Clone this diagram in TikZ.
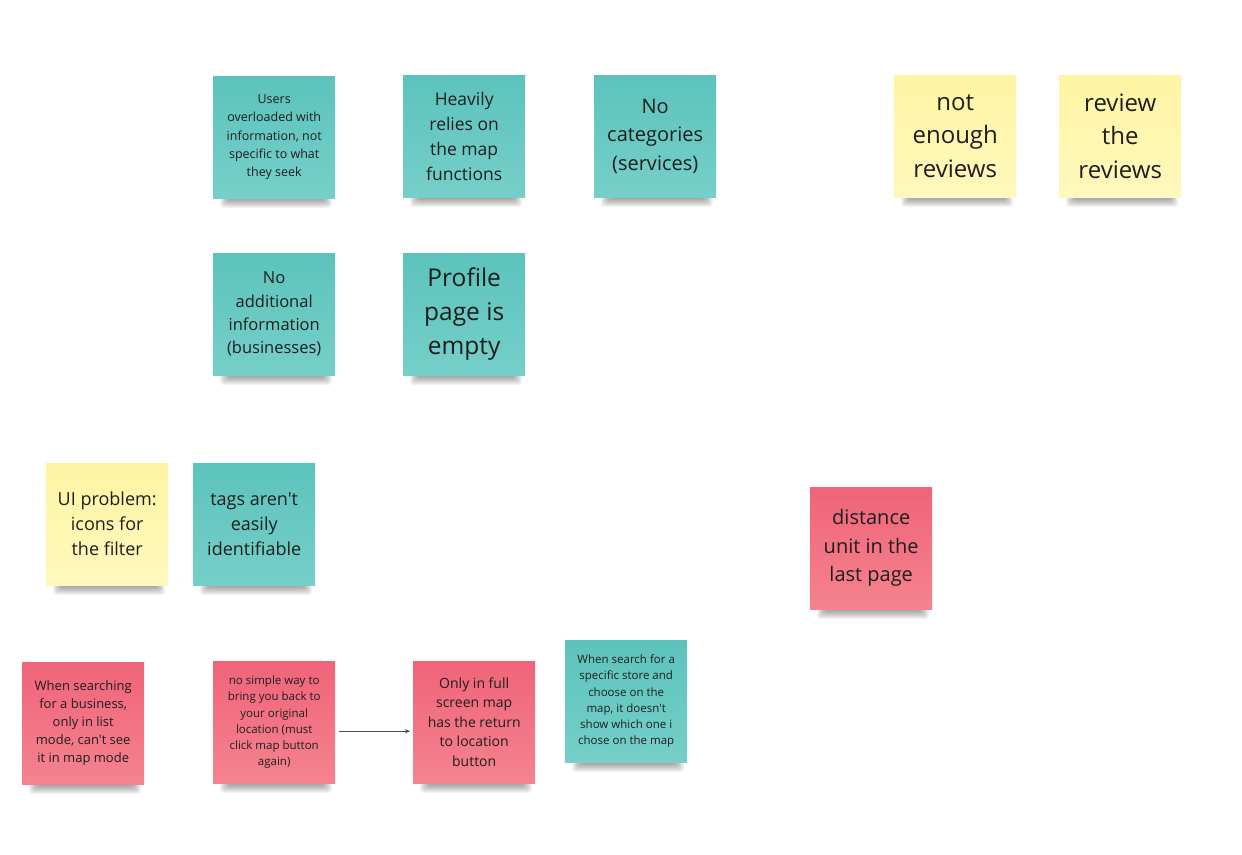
\documentclass[tikz,border=0pt]{standalone}
\usepackage{fontspec}
\setmainfont{Open Sans}[Ligatures=TeXOff]
\usetikzlibrary{arrows.meta,calc}
\definecolor{txt}{HTML}{1E1E1E}
\definecolor{tealA}{HTML}{5CC3BC}
\definecolor{tealB}{HTML}{76CFC9}
\definecolor{pinkA}{HTML}{EF6479}
\definecolor{pinkB}{HTML}{F5838F}
\definecolor{yelA}{HTML}{FFF4A3}
\definecolor{yelB}{HTML}{FFF8BD}
\tikzset{
  note/.style={anchor=north west,minimum width=122pt,minimum height=122pt,
    inner sep=0pt,align=center,text=txt,draw=none},
  tealnote/.style={note,top color=tealA,bottom color=tealB},
  pinknote/.style={note,top color=pinkA,bottom color=pinkB},
  yelnote/.style={note,top color=yelA,bottom color=yelB},
  link/.style={draw=black!70,line width=0.5pt,-{Stealth[length=5pt,width=4pt]}}
}
% name, x, y, style, font size, baseline, text
\newcommand\stickynote[7]{%
  \foreach \k in {1,...,9}{%
    \fill[black,opacity=0.045,rounded corners=3pt] ($(#2,#3)+(6+\k,122-3)$) rectangle ($(#2,#3)+(122-2-\k,122+11-\k)$);
  }%
  \node[#4,font={\fontsize{#5}{#6}\selectfont}] (#1) at (#2,#3) {#7};
}
\begin{document}
\begin{tikzpicture}[x=1pt,y=-1pt]
\useasboundingbox[fill=white] (0,0) rectangle (1242,854);
\stickynote{n1}{213}{76}{tealnote}{12.5}{18.2}{Users\\overloaded with\\information, not\\specific to what\\they seek}
\stickynote{n2}{403}{75}{tealnote}{17.5}{25}{Heavily\\relies on\\the map\\functions}
\stickynote{n3}{594}{75}{tealnote}{20}{28.5}{No\\categories\\(services)}
\stickynote{n4}{894}{75}{yelnote}{24}{33.5}{not\\enough\\reviews}
\stickynote{n5}{1059}{75}{yelnote}{24}{33.5}{review\\the\\reviews}
\stickynote{n6}{213}{253}{tealnote}{16.5}{23.3}{No\\additional\\information\\(businesses)}
\stickynote{n7}{403}{253}{tealnote}{24.5}{34}{Profile\\page is\\empty}
\stickynote{n8}{46}{463}{yelnote}{18}{25}{UI problem:\\icons for\\the filter}
\stickynote{n9}{193}{463}{tealnote}{18}{25}{tags aren't\\easily\\identifiable}
\stickynote{n10}{810}{487}{pinknote}{20}{28.5}{distance\\unit in the\\last page}
\stickynote{n11}{22}{662}{pinknote}{13}{18}{When searching\\for a business,\\only in list\\mode, can't see\\it in map mode}
\stickynote{n12}{213}{661}{pinknote}{11.5}{16.2}{no simple way to\\bring you back to\\your original\\location (must\\click map button\\again)}
\stickynote{n13}{413}{661}{pinknote}{14}{19.5}{Only in full\\screen map\\has the return\\to location\\button}
\stickynote{n14}{565}{640}{tealnote}{11.5}{16.2}{When search for a\\specific store and\\choose on the\\map, it doesn't\\show which one i\\chose on the map}
\draw[link] ([shift={(4,9)}]n12.east) -- ([shift={(-3,9)}]n13.west);
\end{tikzpicture}
\end{document}
